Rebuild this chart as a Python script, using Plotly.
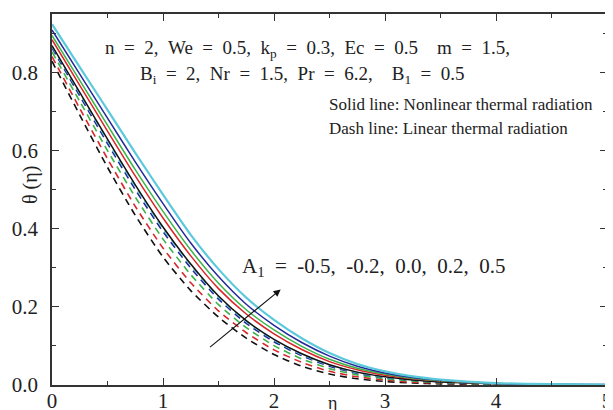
import plotly.graph_objects as go

# eta grid the profiles were read at
eta = [0, 0.25, 0.5, 0.75, 1.0, 1.25, 1.5, 1.75, 2.0, 2.25, 2.5, 2.75,
       3.0, 3.25, 3.5, 4.0, 4.5, 5.0]

# solid lines: nonlinear thermal radiation, A1 = -0.5, -0.2, 0.0, 0.2, 0.5
theta_nl_m05 = [0.870, 0.750, 0.630, 0.513, 0.405, 0.310, 0.228, 0.165, 0.117,
                0.080, 0.052, 0.033, 0.021, 0.013, 0.008, 0.003, 0.001, 0.000]
theta_nl_m02 = [0.885, 0.768, 0.651, 0.536, 0.428, 0.331, 0.247, 0.182, 0.131,
                0.091, 0.060, 0.039, 0.025, 0.016, 0.010, 0.004, 0.001, 0.000]
theta_nl_00 = [0.896, 0.781, 0.666, 0.552, 0.445, 0.346, 0.261, 0.193, 0.141,
               0.099, 0.066, 0.043, 0.028, 0.017, 0.011, 0.004, 0.002, 0.000]
theta_nl_02 = [0.910, 0.797, 0.684, 0.572, 0.465, 0.364, 0.278, 0.207, 0.153,
               0.109, 0.074, 0.048, 0.031, 0.019, 0.012, 0.004, 0.002, 0.001]
theta_nl_05 = [0.925, 0.815, 0.705, 0.595, 0.488, 0.385, 0.297, 0.224, 0.167,
               0.120, 0.082, 0.054, 0.035, 0.022, 0.014, 0.005, 0.002, 0.001]

# dashed lines: linear thermal radiation, same A1 values
theta_l_m05 = [0.830, 0.692, 0.558, 0.435, 0.328, 0.242, 0.174, 0.120, 0.078,
               0.048, 0.028, 0.016, 0.009, 0.005, 0.003, 0.001, 0.000, 0.000]
theta_l_m02 = [0.842, 0.709, 0.580, 0.458, 0.351, 0.262, 0.190, 0.134, 0.090,
               0.058, 0.035, 0.021, 0.013, 0.007, 0.005, 0.002, 0.000, 0.000]
theta_l_00 = [0.854, 0.727, 0.601, 0.482, 0.374, 0.283, 0.206, 0.147, 0.101,
              0.067, 0.042, 0.026, 0.016, 0.010, 0.006, 0.002, 0.001, 0.000]
theta_l_02 = [0.864, 0.741, 0.619, 0.501, 0.393, 0.300, 0.220, 0.158, 0.111,
              0.075, 0.048, 0.030, 0.019, 0.012, 0.007, 0.003, 0.001, 0.000]
theta_l_05 = [0.868, 0.747, 0.626, 0.509, 0.401, 0.307, 0.225, 0.163, 0.115,
              0.078, 0.051, 0.032, 0.020, 0.013, 0.008, 0.003, 0.001, 0.000]

x_ticks = [0, 1, 2, 3, 4, 5]
y_ticks = [0.0, 0.2, 0.4, 0.6, 0.8]

colors = ["#111111", "#d8262a", "#3cb44a", "#232a9a", "#5cc9db"]
solid = [theta_nl_m05, theta_nl_m02, theta_nl_00, theta_nl_02, theta_nl_05]
dashed = [theta_l_m05, theta_l_m02, theta_l_00, theta_l_02, theta_l_05]

SERIF = "Liberation Serif, Times New Roman, serif"
SP = "\u2002"  # en space, the original text is set rather wide

# plot area in window pixels (page body adds an 8px offset)
OFF = 8
PL, PR, PT, PB = 52, 607, 14, 385
PW, PH = PR - PL, PB - PT


def px(x):
    return (x - PL) / PW


def py(y):
    return (PB - y) / PH


fig = go.Figure()
for ys, c in zip(dashed, colors):
    fig.add_trace(go.Scatter(x=eta, y=ys, mode="lines",
                             line={"color": c, "width": 1.6, "dash": "7px,5px",
                                   "shape": "spline", "smoothing": 0.6}))
for i, (ys, c) in enumerate(zip(solid, colors)):
    fig.add_trace(go.Scatter(x=eta, y=ys, mode="lines",
                             line={"color": c, "width": 2.2 if i == 4 else 1.5,
                                   "shape": "spline", "smoothing": 0.6}))

ax = dict(showgrid=False, zeroline=False, showline=True, linecolor="#333",
          linewidth=1.5, mirror="allticks", ticks="inside", ticklen=7,
          tickwidth=1.3, tickcolor="#333", automargin=False,
          tickfont={"family": SERIF, "size": 21, "color": "#222"})

fig.update_layout(
    width=613, height=410,
    paper_bgcolor="white", plot_bgcolor="white",
    showlegend=False,
    margin={"l": PL - OFF, "r": 613 - (PR - OFF), "t": PT - OFF,
            "b": 410 - (PB - OFF)},
    xaxis=dict(ax, range=[0, 5], tickvals=x_ticks, ticklabelstandoff=-4,
               minor={"dtick": 0.5, "ticks": "inside", "ticklen": 4,
                      "tickcolor": "#333"}),
    yaxis=dict(ax, range=[0, 0.951], tickvals=y_ticks, tickformat=".1f",
               ticklabelstandoff=8,
               minor={"dtick": 0.1, "ticks": "inside", "ticklen": 4,
                      "tickcolor": "#333"}),
)

big = {"family": SERIF, "size": 19, "color": "#222"}
small = {"family": SERIF, "size": 17, "color": "#222"}
line1 = SP.join(["n", "=", "2,", "We", "=", "0.5,", "k<sub>p</sub>", "=", "0.3,",
                 "Ec", "=", "0.5" + SP, "m", "=", "1.5,"])
line2 = SP.join(["B<sub>i</sub>", "=", "2,", "Nr", "=", "1.5,", "Pr", "=", "6.2,"
                 + SP, "B<sub>1</sub>", "=", "0.5"])
line5 = SP.join(["A<sub>1</sub>", "=", "-0.5,", "-0.2,", "0.0,", "0.2,", "0.5"])


def label(text, x, y, font, xanchor="left", **kw):
    fig.add_annotation(text=text, xref="paper", yref="paper", x=px(x), y=py(y),
                       xanchor=xanchor, yanchor="middle", showarrow=False,
                       font=font, **kw)


label(line1, 103, 49, big)
label(line2, 138, 75, big)
label("Solid line: Nonlinear thermal radiation", 327, 105, small)
label("Dash line: Linear thermal radiation", 327, 128, small)
label(line5, 240, 267, {"family": SERIF, "size": 21, "color": "#222"})
label("θ (η)", 30, 185, {"family": SERIF, "size": 20, "color": "#222"},
      xanchor="center", textangle=-90)
label("η", 332, 403, {"family": SERIF, "size": 18, "color": "#222"},
      xanchor="center")

# arrow showing increasing A1
fig.add_annotation(x=2.06, y=0.245, ax=1.41, ay=0.094, xref="x", yref="y",
                   axref="x", ayref="y", text="", showarrow=True,
                   arrowhead=2, arrowsize=1.3, arrowwidth=1.1, arrowcolor="#111")

fig.write_html("out.html")
